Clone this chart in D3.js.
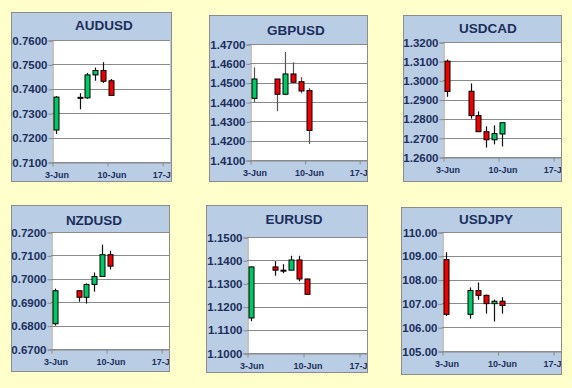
<!DOCTYPE html>
<html>
<head>
<meta charset="utf-8">
<script src="https://cdn.jsdelivr.net/npm/d3@7"></script>
<style>
  body { margin: 0; background: #ffffcc; }
  svg { display: block; font-family: "Liberation Sans", Arial, sans-serif; }
</style>
</head>
<body>
<svg id="canvas"></svg>
<script>
const width = 572;
const height = 388;

// trading days shown on every chart
const days = ["2016-06-03", "2016-06-06", "2016-06-07", "2016-06-08", "2016-06-09", "2016-06-10"];
const xTicks = ["2016-06-03", "2016-06-10", "2016-06-17"];

// [open, high, low, close] per day
const audusd = [
  [0.7231, 0.7370, 0.7215, 0.7366],
  [0.7365, 0.7382, 0.7316, 0.7363],
  [0.7363, 0.7465, 0.7359, 0.7457],
  [0.7457, 0.7487, 0.7433, 0.7475],
  [0.7475, 0.7509, 0.7424, 0.7431],
  [0.7433, 0.7440, 0.7373, 0.7373]
];
const gbpusd = [
  [1.4419, 1.4579, 1.4398, 1.4519],
  [1.4519, 1.4519, 1.4352, 1.4440],
  [1.4440, 1.4659, 1.4437, 1.4545],
  [1.4545, 1.4605, 1.4502, 1.4502],
  [1.4505, 1.4529, 1.4445, 1.4457],
  [1.4459, 1.4472, 1.4183, 1.4253]
];
const usdcad = [
  [1.3100, 1.3109, 1.2914, 1.2942],
  [1.2943, 1.2984, 1.2800, 1.2816],
  [1.2816, 1.2838, 1.2732, 1.2732],
  [1.2732, 1.2760, 1.2649, 1.2690],
  [1.2690, 1.2765, 1.2666, 1.2722],
  [1.2720, 1.2779, 1.2655, 1.2779]
];
const nzdusd = [
  [0.6808, 0.6958, 0.6800, 0.6949],
  [0.6949, 0.6949, 0.6902, 0.6921],
  [0.6921, 0.6980, 0.6894, 0.6976],
  [0.6976, 0.7027, 0.6945, 0.7010],
  [0.7010, 0.7146, 0.7010, 0.7103],
  [0.7103, 0.7120, 0.7040, 0.7054]
];
const eurusd = [
  [1.1151, 1.1373, 1.1137, 1.1371],
  [1.1371, 1.1396, 1.1333, 1.1357],
  [1.1357, 1.1383, 1.1344, 1.1355],
  [1.1357, 1.1419, 1.1357, 1.1401],
  [1.1401, 1.1419, 1.1309, 1.1319],
  [1.1319, 1.1320, 1.1253, 1.1253]
];
const usdjpy = [
  [108.84, 109.15, 106.47, 106.54],
  [106.54, 107.67, 106.36, 107.54],
  [107.54, 107.88, 107.15, 107.34],
  [107.34, 107.37, 106.57, 106.99],
  [106.99, 107.16, 106.24, 107.09],
  [107.09, 107.26, 106.57, 106.91]
];

const titles = ["AUDUSD", "GBPUSD", "USDCAD", "NZDUSD", "EURUSD", "USDJPY"];
const series = [audusd, gbpusd, usdcad, nzdusd, eurusd, usdjpy];
const yDomains = [[0.71, 0.76], [1.41, 1.47], [1.26, 1.32], [0.67, 0.72], [1.10, 1.15], [105, 110]];
const ySteps = [0.01, 0.01, 0.01, 0.01, 0.01, 1];
const yFormats = [".4f", ".4f", ".4f", ".4f", ".4f", ".2f"];

// panel boxes and plot areas (page pixels)
const layout = [
  { x: 11, y: 12, w: 161, h: 170, pl: 52, pt: 40, pr: 170, pb: 162, tx: 104, ty: 30 },
  { x: 209, y: 15, w: 159, h: 167, pl: 250, pt: 44, pr: 367, pb: 160, tx: 296, ty: 35 },
  { x: 403, y: 15, w: 159, h: 167, pl: 443, pt: 42, pr: 561, pb: 157, tx: 488, ty: 33 },
  { x: 11, y: 205, w: 159, h: 167, pl: 51, pt: 232, pr: 169, pb: 349, tx: 94, ty: 225 },
  { x: 206, y: 205, w: 162, h: 168, pl: 247, pt: 237, pr: 367, pb: 353, tx: 294, ty: 224 },
  { x: 401, y: 207, w: 161, h: 168, pl: 442, pt: 232, pr: 561, pb: 351, tx: 486, ty: 224 }
];

const textColor = "#1c2f5c";
const gridColor = "#8a8a8a";
const upColor = "#00c864";
const downColor = "#ee0000";

const parse = d3.utcParse("%Y-%m-%d");
const tickFmt = d3.utcFormat("%-d-%b");

const svg = d3.select("#canvas").attr("width", width).attr("height", height);

svg.append("rect").attr("width", width).attr("height", height).attr("fill", "#ffffcc");

titles.forEach((title, i) => {
  const L = layout[i];
  const data = series[i].map((d, j) => ({ date: parse(days[j]), o: d[0], h: d[1], l: d[2], c: d[3] }));

  const clipId = "clip" + i;
  svg.append("clipPath").attr("id", clipId)
    .append("rect").attr("x", L.x).attr("y", L.y).attr("width", L.w).attr("height", L.h);

  const g = svg.append("g").attr("clip-path", `url(#${clipId})`);

  g.append("rect")
    .attr("x", L.x).attr("y", L.y).attr("width", L.w).attr("height", L.h)
    .attr("fill", "#b9cde5");

  g.append("rect")
    .attr("x", L.pl).attr("y", L.pt).attr("width", L.pr - L.pl).attr("height", L.pb - L.pt)
    .attr("fill", "#ffffff");

  const x = d3.scaleUtc()
    .domain([parse("2016-06-03"), parse("2016-06-18")])
    .range([L.pl, L.pr]);

  const y = d3.scaleLinear().domain(yDomains[i]).range([L.pb, L.pt]);
  const n = Math.round((yDomains[i][1] - yDomains[i][0]) / ySteps[i]);
  const vals = d3.range(n + 1).map(k => yDomains[i][0] + k * ySteps[i]);

  // gridlines
  g.append("g")
    .selectAll("line")
    .data(vals)
    .join("line")
    .attr("x1", L.pl).attr("x2", L.pr)
    .attr("y1", d => Math.round(y(d)) + 0.5).attr("y2", d => Math.round(y(d)) + 0.5)
    .attr("stroke", gridColor).attr("stroke-width", 1);

  // y axis
  const yAxis = g.append("g")
    .attr("transform", `translate(${L.pl + 0.5},0.5)`)
    .call(d3.axisLeft(y).tickValues(vals).tickFormat(d3.format(yFormats[i])).tickSize(4).tickPadding(1));
  yAxis.select(".domain").attr("stroke", gridColor);
  yAxis.selectAll(".tick line").attr("stroke", gridColor);
  yAxis.selectAll("text")
    .attr("fill", textColor).attr("font-size", "11.5px").attr("font-weight", "bold")
    .attr("font-family", "Liberation Sans, Arial, sans-serif");

  // x axis
  const xAxis = g.append("g")
    .attr("transform", `translate(0.5,${L.pb + 0.5})`)
    .call(d3.axisBottom(x).tickValues(xTicks.map(parse)).tickFormat(tickFmt).tickSize(4).tickSizeOuter(0).tickPadding(5));
  xAxis.select(".domain").attr("stroke", gridColor);
  xAxis.selectAll(".tick line").attr("stroke", gridColor);
  xAxis.selectAll("text")
    .attr("dx", 4)
    .attr("fill", textColor).attr("font-size", "9px").attr("font-weight", "bold")
    .attr("font-family", "Liberation Sans, Arial, sans-serif");

  // candles
  const dayW = x(parse("2016-06-04")) - x(parse("2016-06-03"));
  const cx = d => Math.round(x(d.date) + dayW / 2) + 0.5;
  const bodyW = 5;

  g.append("g")
    .selectAll("line")
    .data(data)
    .join("line")
    .attr("x1", cx).attr("x2", cx)
    .attr("y1", d => y(d.h)).attr("y2", d => y(d.l))
    .attr("stroke", i === 1 ? "#555" : "#111").attr("stroke-width", 1.2);

  g.append("g")
    .selectAll("rect")
    .data(data)
    .join("rect")
    .attr("x", d => cx(d) - bodyW / 2)
    .attr("y", d => y(Math.max(d.o, d.c)))
    .attr("width", bodyW)
    .attr("height", d => Math.max(1, Math.abs(y(d.o) - y(d.c))))
    .attr("fill", d => (d.c >= d.o ? upColor : downColor))
    .attr("stroke", "#000").attr("stroke-width", 1);

  // title
  g.append("text")
    .attr("x", L.tx).attr("y", L.ty)
    .attr("text-anchor", "middle")
    .attr("fill", textColor).attr("font-size", "13.5px").attr("font-weight", "bold")
    .text(title);

  // border
  svg.append("rect")
    .attr("x", L.x + 0.5).attr("y", L.y + 0.5).attr("width", L.w - 1).attr("height", L.h - 1)
    .attr("fill", "none").attr("stroke", "#8c8c8c");
});
</script>
</body>
</html>
